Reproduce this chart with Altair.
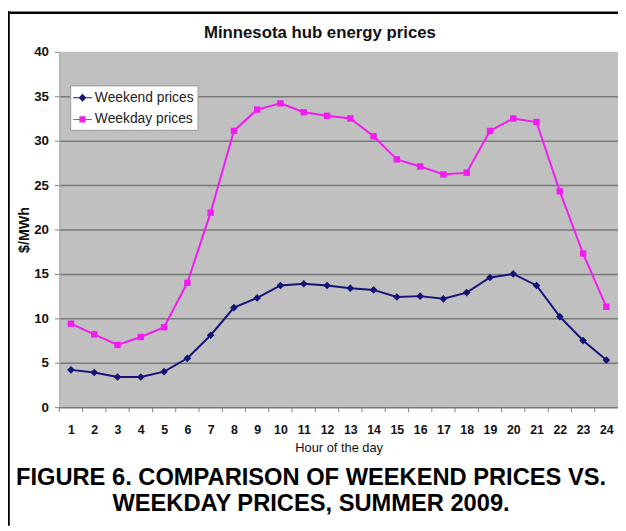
import altair as alt
import pandas as pd

hours = list(range(1, 25))
weekend = [4.2, 3.9, 3.4, 3.4, 4.0, 5.5, 8.1, 11.2, 12.3, 13.7, 13.9, 13.7,
           13.4, 13.2, 12.4, 12.5, 12.2, 12.9, 14.6, 15.0, 13.7, 10.2, 7.5, 5.3]
weekday = [9.4, 8.2, 7.0, 7.9, 9.0, 14.0, 21.9, 31.1, 33.5, 34.2, 33.2, 32.8,
           32.5, 30.5, 27.9, 27.1, 26.2, 26.4, 31.1, 32.5, 32.1, 24.3, 17.3, 11.3]
series = ["Weekend prices", "Weekday prices"]
colors = ["#141478", "#f21cf2"]
y_ticks = [0, 5, 10, 15, 20, 25, 30, 35, 40]
hour_edges = [h + 0.5 for h in range(0, 24)]

title_text = "Minnesota hub energy prices"
caption_1 = "FIGURE 6. COMPARISON OF WEEKEND PRICES VS."
caption_2 = "WEEKDAY PRICES, SUMMER 2009."

FONT = "Liberation Sans"
W, H = 566, 360

df = pd.DataFrame({
    "hour": hours * 2,
    "price": weekend + weekday,
    "series": [series[0]] * 24 + [series[1]] * 24,
})
edges_df = pd.DataFrame({"edge": hour_edges})
one = pd.DataFrame({"k": [0]})

xscale = alt.Scale(domain=[0.5, 24.5], nice=False, zero=False)
yscale = alt.Scale(domain=[0, 40], nice=False)
cscale = alt.Scale(domain=series, range=colors)

legend_paths = [
    "M-1,-0.06H1V0.06H-1Z M0,-0.42L0.42,0L0,0.42L-0.42,0Z",
    "M-1,-0.06H1V0.06H-1Z M-0.33,-0.33H0.33V0.33H-0.33Z",
]

x_axis = alt.Axis(values=hours, ticks=False, tickSize=0, grid=False,
                  labelPadding=17, domainColor="#777777", domainWidth=1.5,
                  title="Hour of the day", titleFontWeight="normal",
                  titleFontSize=13, titlePadding=5)
y_axis = alt.Axis(values=y_ticks, tickSize=5, tickColor="#808080",
                  labelPadding=6, labelFontSize=13.5, domainColor="#a8a8a8",
                  grid=True, gridWidth=1.5,
                  gridColor=alt.condition("datum.value > 0 && datum.value < 40",
                                          alt.value("#787878"), alt.value("transparent")),
                  title="$/MWh", titleFontSize=14.5, titleFontWeight="bold",
                  titlePadding=2)

X = alt.X("hour:Q", scale=xscale, axis=x_axis)
Y = alt.Y("price:Q", scale=yscale, axis=y_axis)

base = alt.Chart(df)
layers = []
for name, col in zip(series, colors):
    layers.append(base.mark_line(strokeWidth=2, color=col).encode(x=X, y=Y)
                  .transform_filter(alt.datum.series == name))
layers.append(base.mark_point(filled=True, opacity=1, shape="diamond", size=60,
                              color=colors[0]).encode(x=X, y=Y)
              .transform_filter(alt.datum.series == series[0]))
layers.append(base.mark_point(filled=True, opacity=1, shape="square", size=42,
                              color=colors[1]).encode(x=X, y=Y)
              .transform_filter(alt.datum.series == series[1]))

legend_layer = base.mark_point(filled=True, opacity=1).encode(
    x=X, y=Y,
    color=alt.Color("series:N", scale=cscale, legend=alt.Legend(
        title=None, orient="none", legendX=11, legendY=34,
        fillColor="white", strokeColor="#999999", padding=3,
        labelFont=FONT, labelFontSize=14, labelColor="#222",
        symbolSize=361, labelOffset=3, rowPadding=5, symbolStrokeWidth=0)),
    shape=alt.Shape("series:N", scale=alt.Scale(domain=series, range=legend_paths)),
).transform_filter("false")
layers.append(legend_layer)

ticks = alt.Chart(edges_df).mark_rule(color="#808080", strokeWidth=1).encode(
    x=alt.X("edge:Q", scale=xscale, axis=x_axis),
    y=alt.value(H), y2=alt.value(H + 5),
)
layers.insert(0, ticks)

layers.append(alt.Chart(one).mark_text(
    font=FONT, fontSize=17, fontWeight="bold", color="#111", baseline="middle"
).encode(x=alt.value(264), y=alt.value(-19), text=alt.value(title_text)))
layers.append(alt.Chart(one).mark_text(
    font=FONT, fontSize=24, fontWeight="bold", color="#000", baseline="middle"
).encode(x=alt.value(255), y=alt.value(432), text=alt.value(caption_1)))
layers.append(alt.Chart(one).mark_text(
    font=FONT, fontSize=24, fontWeight="bold", color="#000", baseline="middle"
).encode(x=alt.value(255), y=alt.value(458), text=alt.value(caption_2)))

layers.append(alt.Chart(one).mark_rule(color="#000", strokeWidth=2.6).encode(
    x=alt.value(-51.5), y=alt.value(-41), y2=alt.value(H + 120)))
layers.append(alt.Chart(one).mark_rule(color="#000", strokeWidth=2.4).encode(
    x=alt.value(-52), x2=alt.value(W), y=alt.value(-39.6)))

chart = alt.layer(*layers).properties(
    width=W, height=H,
    autosize=alt.AutoSizeParams(type="none"),
    padding={"left": 52, "top": 41, "right": 0, "bottom": 120},
    background="white",
).configure_view(fill="#c0c0c0", stroke=None).configure_axis(
    labelFont=FONT, labelFontSize=12.5, labelFontWeight="bold", labelColor="#111",
    titleFont=FONT, titleColor="#111",
)

chart.save("out.html", embed_options={"renderer": "svg", "actions": False})
